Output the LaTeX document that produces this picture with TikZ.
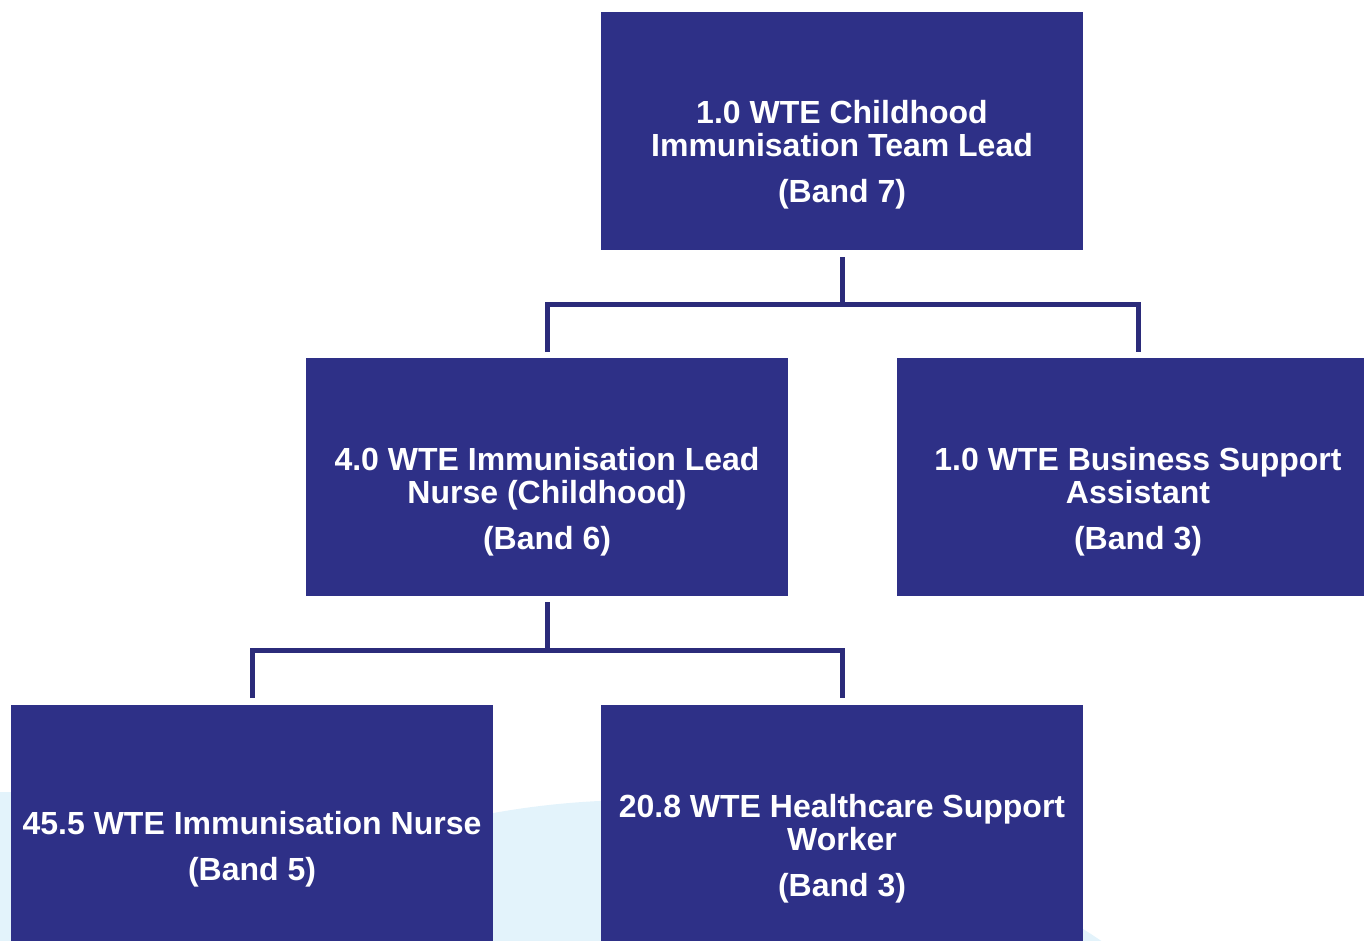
\documentclass[tikz,border=0pt]{standalone}
\usepackage{fontspec}
\setmainfont{Liberation Sans}
\definecolor{boxblue}{HTML}{2E3087}
\definecolor{linkblue}{HTML}{2B2B7A}
\definecolor{bgblue}{HTML}{E3F3FB}
\begin{document}
\begin{tikzpicture}[x=1pt,y=-1pt,
  orgbox/.style={fill=boxblue,draw=none,minimum width=482pt,minimum height=238pt,inner sep=0pt,anchor=north west},
  txt/.style={text=white,font=\fontsize{32}{33}\selectfont\bfseries,inner sep=0pt,anchor=base},
  conn/.style={draw=linkblue,line width=5pt,line join=miter}]
\useasboundingbox (0,0) rectangle (1364,941);
\clip (0,0) rectangle (1364,941);
% faint background watermark
\fill[bgblue] (640,1625) circle[radius=825pt];
\fill[bgblue] (0,792) rectangle (11,941);
% boxes
\node[orgbox] (top) at (601,12) {};
\node[orgbox] (ml) at (306,358) {};
\node[orgbox] (mr) at (897,358) {};
\node[orgbox] (bl) at (11,705) {};
\node[orgbox] (br) at (601,705) {};
% texts
\node[txt] (top1) at (842,124) {1.0 WTE Childhood};
\node[txt] (top2) at (842,157) {Immunisation Team Lead};
\node[txt] (top3) at (842,203) {(Band 7)};
\node[txt] (ml1) at (547,470.5) {4.0 WTE Immunisation Lead};
\node[txt] (ml2) at (547,503.5) {Nurse (Childhood)};
\node[txt] (ml3) at (547,549.5) {(Band 6)};
\node[txt] (mr1) at (1138,470.5) {1.0 WTE Business Support};
\node[txt] (mr2) at (1138,503.5) {Assistant};
\node[txt] (mr3) at (1138,549.5) {(Band 3)};
\node[txt] (bl1) at (252,834) {45.5 WTE Immunisation Nurse};
\node[txt] (bl2) at (252,880) {(Band 5)};
\node[txt] (br1) at (842,817.5) {20.8 WTE Healthcare Support};
\node[txt] (br2) at (842,850.5) {Worker};
\node[txt] (br3) at (842,896.5) {(Band 3)};
% connectors
\draw[conn] ([yshift=-7pt]top.south) -- ++(0,47) coordinate (j1);
\draw[conn] ([yshift=6pt]ml.north) |- (j1) -| ([yshift=6pt]mr.north);
\draw[conn] ([yshift=-6pt]ml.south) -- ++(0,48) coordinate (j2);
\draw[conn] ([yshift=7pt]bl.north) |- (j2) -| ([yshift=7pt]br.north);
\end{tikzpicture}
\end{document}
